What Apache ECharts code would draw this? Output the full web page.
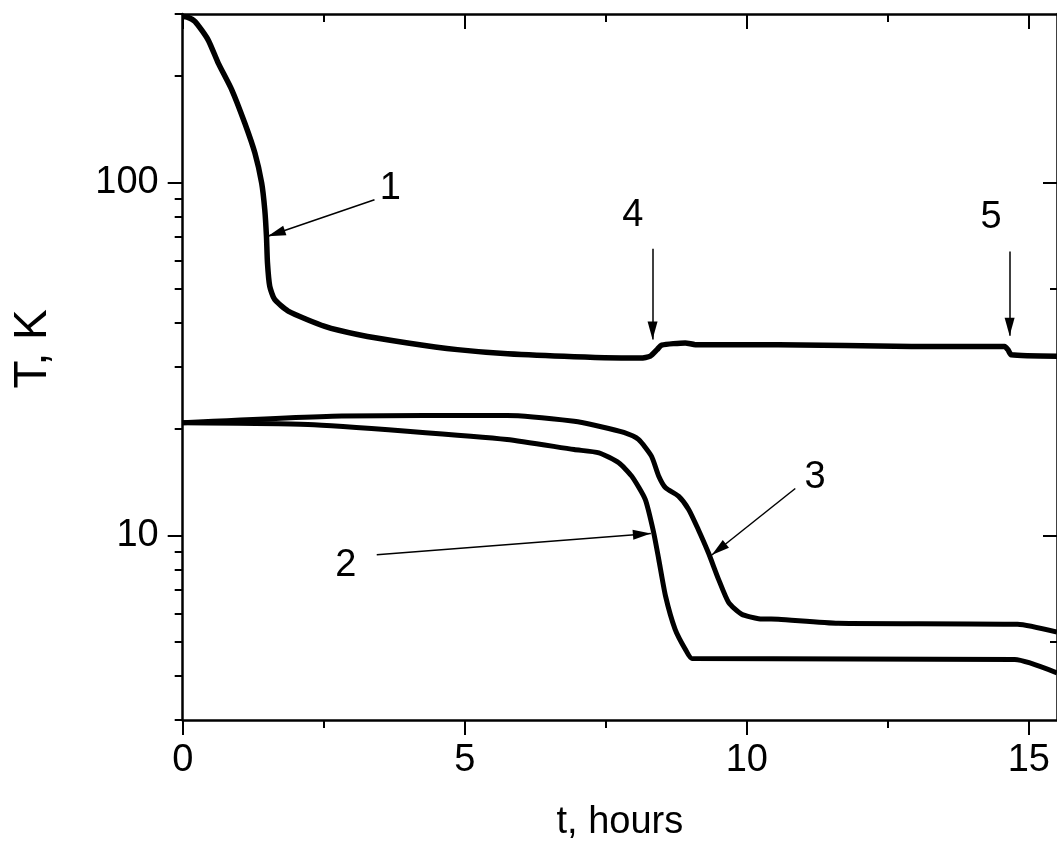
<!DOCTYPE html>
<html>
<head>
<meta charset="utf-8">
<script src="https://cdn.jsdelivr.net/npm/echarts@6/dist/echarts.min.js"></script>
<style>
  html, body { margin: 0; padding: 0; background: #fff; }
  #chart { width: 1057px; height: 850px; }
</style>
</head>
<body>
<div id="chart"></div>
<script>
// ---- data (t in hours, T in K) ----
const curve1_t = [0, 0.08, 0.22, 0.45, 0.63, 0.87, 1.10, 1.28, 1.40, 1.455, 1.485, 1.503, 1.543, 1.63, 1.87, 2.52, 3.10, 3.99, 4.87, 5.76, 6.94, 8.12, 8.29, 8.41, 8.49, 8.91, 9.09, 10.56, 12.92, 14.57, 14.63, 14.69, 15.5];
const curve1_T = [295, 294, 285.5, 253.5, 217.8, 183, 147.3, 121.1, 99.6, 83.7, 70.3, 59.1, 50.8, 46.6, 43.2, 39.1, 37.1, 35.1, 33.6, 32.7, 32.1, 31.8, 32.2, 33.6, 34.6, 35.1, 34.7, 34.7, 34.3, 34.3, 33.6, 32.5, 32.2];

const curve2_t = [0, 2.22, 3.98, 5.75, 6.94, 7.38, 7.73, 7.96, 8.20, 8.35, 8.44, 8.56, 8.73, 8.91, 9.03, 14.75, 15.5];
const curve2_T = [20.84, 20.62, 19.74, 18.70, 17.51, 17.14, 16.06, 14.72, 12.65, 10.18, 8.55, 6.73, 5.42, 4.76, 4.48, 4.45, 4.08];

const curve3_t = [0, 2.82, 5.75, 6.94, 7.38, 7.82, 8.08, 8.31, 8.44, 8.56, 8.79, 8.97, 9.14, 9.32, 9.50, 9.68, 9.91, 10.21, 10.56, 11.62, 14.80, 15.5];
const curve3_T = [20.84, 21.79, 21.87, 21.07, 20.39, 19.57, 18.70, 16.77, 14.72, 13.65, 12.92, 11.85, 10.40, 8.93, 7.51, 6.45, 5.98, 5.81, 5.79, 5.64, 5.60, 5.32];

// ---- ticks ----
const xMajorTicks = [0, 5, 10, 15];
const xMinorTicks = [2.5, 7.5, 12.5];
const yMajorTicks = [10, 100];
const yMinorTicks = [3, 4, 5, 6, 7, 8, 9, 20, 30, 40, 50, 60, 70, 80, 90, 200, 300];
const yRightMinorTicks = [5, 50];

// ---- annotations (data units): label, label position, arrow start, arrow tip ----
const annLabels = ['1', '4', '5', '2', '3'];
const annLabelPos = [[3.68, 95.9], [7.98, 80.5], [14.33, 79.5], [2.89, 8.22], [11.21, 14.6]];
const annArrowFrom = [[3.40, 89.3], [8.33, 64.9], [14.66, 63.7], [3.44, 8.81], [10.86, 13.58]];
const annArrowTo = [[1.508, 70.4], [8.33, 35.9], [14.66, 36.8], [8.30, 10.13], [9.38, 8.80]];

const zip = (a, b) => a.map((v, i) => [v, b[i]]);
const FONT = 'Liberation Sans, Arial, sans-serif';
const X_MIN = 0, X_MAX = 15.5, Y_MIN = 3, Y_MAX = 300;

const chart = echarts.init(document.getElementById('chart'), null, { renderer: 'canvas' });

function xAx(position, ticks, len, inside, showLine, showLabel, name) {
  return {
    type: 'value', position, min: X_MIN, max: X_MAX, interval: 5,
    axisLine: { show: showLine, onZero: false, lineStyle: { color: '#000', width: 2.5 } },
    axisTick: { show: true, inside, length: len, customValues: ticks, lineStyle: { color: '#000', width: 2 } },
    axisLabel: { show: showLabel, customValues: ticks, fontSize: 38, color: '#000', fontFamily: FONT, margin: 22 },
    splitLine: { show: false },
    name: name || '', nameLocation: 'middle', nameGap: 84,
    nameTextStyle: { fontSize: 38, color: '#000', fontFamily: FONT }
  };
}
function yAx(position, ticks, len, inside, showLine, showLabel) {
  return {
    type: 'log', logBase: 10, position, min: Y_MIN, max: Y_MAX,
    axisLine: { show: showLine, onZero: false, lineStyle: { color: '#000', width: 2.5 } },
    axisTick: { show: true, inside, length: len, customValues: ticks, lineStyle: { color: '#000', width: 2 } },
    axisLabel: { show: showLabel, customValues: ticks, fontSize: 38, color: '#000', fontFamily: FONT, margin: 24 },
    splitLine: { show: false }, minorTick: { show: false }
  };
}

const arrowPath = 'path://M5,0L10,18L0,18Z';

const option = {
  animation: false,
  backgroundColor: '#fff',
  textStyle: { fontFamily: FONT },
  grid: { left: 182.7, top: 14, width: 876.7, height: 706, containLabel: false },
  xAxis: [
    xAx('bottom', xMajorTicks, 15, false, true, true, 't, hours'),
    xAx('bottom', xMinorTicks, 8, false, false, false),
    xAx('top', xMajorTicks, 15, true, true, false),
    xAx('top', xMinorTicks, 8, true, false, false)
  ],
  yAxis: [
    yAx('left', yMajorTicks, 15, false, true, true),
    yAx('left', yMinorTicks, 8, false, false, false),
    yAx('right', yMajorTicks, 14, true, true, false),
    yAx('right', yRightMinorTicks, 7, true, false, false)
  ],
  graphic: [{
    type: 'text', x: 33, y: 349, rotation: Math.PI / 2,
    style: { text: 'T, K', font: '46px ' + FONT, fill: '#000', textAlign: 'center', textVerticalAlign: 'middle' }
  }],
  series: [
    {
      name: '1', type: 'line', xAxisIndex: 0, yAxisIndex: 0, showSymbol: false, symbol: 'none',
      smooth: 0.2,
      data: zip(curve1_t, curve1_T), color: '#000',
      lineStyle: { color: '#000', width: 5.5 }, silent: true,
      markLine: {
        silent: true, animation: false,
        symbol: ['none', 'none'],
        lineStyle: { color: '#000', width: 1.5, type: 'solid' },
        label: { show: false },
        emphasis: { disabled: true },
        data: annArrowFrom.map((f, i) => [
          { coord: f, symbol: 'none' },
          { coord: annArrowTo[i], symbol: arrowPath, symbolSize: [10, 18], symbolOffset: [0, 9], itemStyle: { color: '#000' } }
        ])
      },
      markPoint: {
        silent: true, animation: false,
        symbol: 'circle', symbolSize: 1,
        itemStyle: { color: 'rgba(0,0,0,0)' },
        label: { show: true, position: 'inside', formatter: '{b}', fontSize: 38, color: '#000', fontFamily: FONT },
        data: annLabels.map((l, i) => ({ name: l, coord: annLabelPos[i] }))
      }
    },
    {
      name: '2', type: 'line', xAxisIndex: 0, yAxisIndex: 0, showSymbol: false, symbol: 'none',
      smooth: 0.2,
      data: zip(curve2_t, curve2_T), color: '#000',
      lineStyle: { color: '#000', width: 5 }, silent: true
    },
    {
      name: '3', type: 'line', xAxisIndex: 0, yAxisIndex: 0, showSymbol: false, symbol: 'none',
      smooth: 0.2,
      data: zip(curve3_t, curve3_T), color: '#000',
      lineStyle: { color: '#000', width: 5 }, silent: true
    }
  ]
};
chart.setOption(option);
</script>
</body>
</html>
